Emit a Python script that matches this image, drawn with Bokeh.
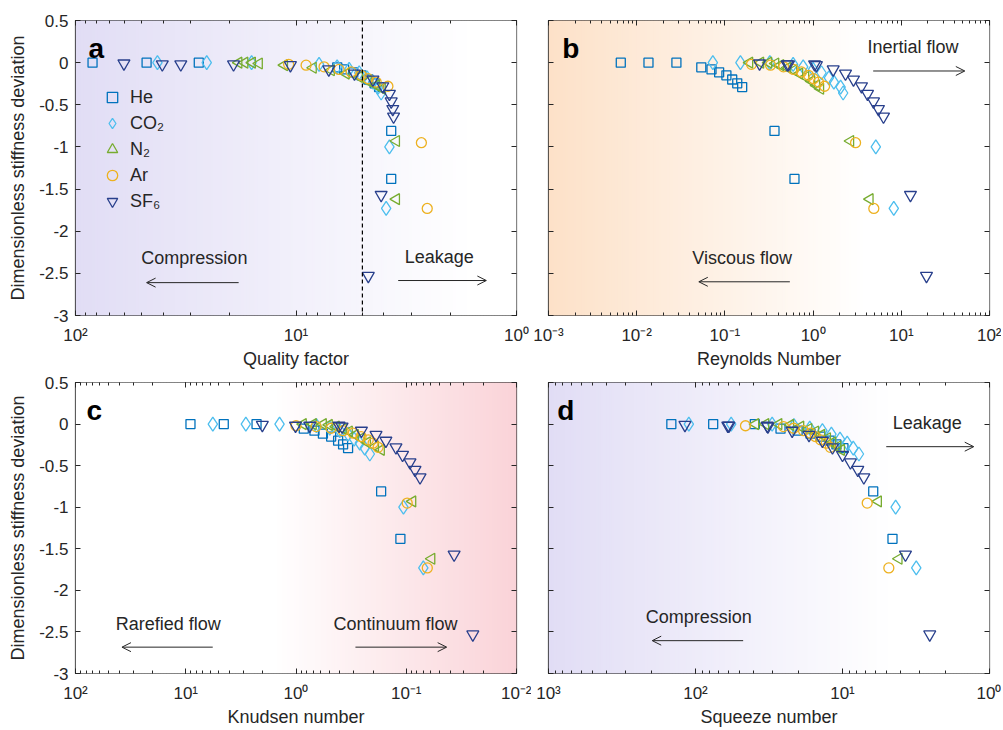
import numpy as np
from bokeh.plotting import figure
from bokeh.layouts import gridplot
from bokeh.models import (Range1d, LogAxis, LinearAxis, LogTicker, FixedTicker,
                          CustomJSTickFormatter, Span, Label, Arrow, OpenHead,
                          Legend, LegendItem)
from bokeh.embed import file_html
from bokeh.resources import INLINE

# ---------------- data ----------------
gases = ["He", "CO\u2082", "N\u2082", "Ar", "SF\u2086"]

he_dev = [0.0, 0.0, 0.0, -0.055, -0.08, -0.115, -0.15, -0.20, -0.245, -0.29, -0.81, -1.38]
he_q = [83.7, 47.6, 27.6, 6.5, 6.05, 5.5, 5.05, 4.7, 4.4, 4.2, 3.7, 3.7]
he_re = [0.0066, 0.0136, 0.0282, 0.054, 0.0705, 0.086, 0.104, 0.121, 0.138, 0.157, 0.365, 0.615]
he_kn = [9.06, 4.52, 2.28, 0.85, 0.68, 0.57, 0.48, 0.415, 0.374, 0.337, 0.169, 0.113]
he_sq = [146, 75.8, 39.5, 26.4, 20.2, 16.5, 14.1, 12.3, 11.0, 9.85, 6.18, 4.57]

co2_dev = [0.0, 0.0, 0.0, -0.02, -0.05, -0.08, -0.12, -0.18, -0.23, -0.29, -0.36, -1.0, -1.73]
co2_q = [42.5, 25.4, 15.9, 7.86, 6.51, 5.74, 5.17, 4.76, 4.47, 4.24, 4.11, 3.77, 3.90]
co2_re = [0.073, 0.150, 0.323, 0.594, 0.772, 1.00, 1.245, 1.51, 1.72, 2.05, 2.19, 5.14, 8.22]
co2_kn = [5.68, 2.85, 1.41, 0.653, 0.494, 0.401, 0.337, 0.297, 0.264, 0.238, 0.214, 0.106, 0.070]
co2_sq = [111, 57.2, 30.1, 21.4, 16.7, 13.7, 11.9, 10.4, 9.29, 8.45, 7.73, 4.35, 3.15]

n2_dev = [0.0, 0.0, 0.0, -0.01, -0.03, -0.06, -0.09, -0.13, -0.17, -0.22, -0.27, -0.31, -0.93, -1.62]
n2_q = [18.2, 17.1, 15.8, 14.7, 11.3, 8.37, 6.93, 5.93, 5.17, 4.71, 4.33, 4.07, 3.51, 3.51]
n2_re = [0.190, 0.253, 0.312, 0.375, 0.427, 0.513, 0.600, 0.701, 0.820, 0.959, 1.09, 1.21, 2.65, 4.40]
n2_kn = [0.863, 0.700, 0.568, 0.501, 0.433, 0.374, 0.330, 0.291, 0.257, 0.226, 0.191, 0.169, 0.0877, 0.0589]
n2_sq = [39.1, 33.4, 27.2, 22.6, 19.3, 17.0, 15.3, 13.9, 12.7, 11.7, 10.8, 10.2, 5.72, 4.14]

ar_dev = [-0.02, -0.03, -0.05, -0.08, -0.11, -0.15, -0.19, -0.23, -0.28, -0.95, -1.73]
ar_q = [10.8, 9.0, 7.46, 6.38, 5.62, 5.06, 4.71, 4.33, 3.83, 2.70, 2.54]
ar_re = [0.200, 0.329, 0.462, 0.600, 0.738, 0.887, 1.01, 1.15, 1.35, 3.03, 4.88]
ar_kn = [1.0, 0.658, 0.481, 0.374, 0.303, 0.257, 0.221, 0.200, 0.180, 0.098, 0.0644]
ar_sq = [45.7, 25.2, 21.5, 18.4, 16.5, 15.3, 14.1, 12.9, 12.1, 6.79, 4.84]

sf6_dev = [-0.01, -0.02, -0.02, -0.02, -0.03, -0.08, -0.13, -0.20, -0.28, -0.37, -0.46, -0.55, -0.64, -1.57, -2.53]
sf6_q = [60.3, 40.4, 33.3, 19.2, 10.6, 7.10, 5.43, 4.48, 4.04, 3.77, 3.70, 3.64, 3.61, 4.11, 4.70]
sf6_re = [0.247, 0.508, 0.526, 1.04, 1.09, 1.69, 2.33, 2.87, 3.54, 4.14, 4.84, 5.51, 6.28, 12.7, 19.3]
sf6_kn = [2.02, 1.01, 0.750, 0.407, 0.382, 0.255, 0.188, 0.153, 0.124, 0.108, 0.0925, 0.0833, 0.075, 0.0368, 0.0249]
sf6_sq = [118, 60.3, 59.3, 32.5, 32.2, 22.0, 16.9, 13.7, 11.7, 10.0, 8.83, 7.87, 7.16, 3.73, 2.55]

y_ticks = [-3, -2.5, -2, -1.5, -1, -0.5, 0, 0.5]

# ---------------- styles ----------------
FONT = "Liberation Sans"
INK = "#262626"
TICK_FS = "17px"
LAB_FS = "18px"
ANN_FS = "18px"

STYLE = [  # marker, size, angle, colour
    ("square", 9, 0.0, "#0072BD"),
    ("diamond", 14, 0.0, "#4DBEEE"),
    ("triangle", 11, np.pi / 2, "#77AC30"),
    ("circle", 10, 0.0, "#EDB120"),
    ("inverted_triangle", 12, 0.0, "#283F8C"),
]
DEV = [he_dev, co2_dev, n2_dev, ar_dev, sf6_dev]

SUP = CustomJSTickFormatter(code="""
const m = {'-':'\u207B','0':'\u2070','1':'\u00B9','2':'\u00B2','3':'\u00B3'};
const e = Math.round(Math.log10(tick));
return '10' + String(e).split('').map(c => m[c] || c).join('');
""")
YF = CustomJSTickFormatter(code="return (Math.round(tick*10)/10).toString();")


def empty():
    return CustomJSTickFormatter(code="return '';")


LAV = (225, 221, 245)
PEACH = (253, 225, 200)
PINK = (250, 211, 216)
WHITE = (255, 255, 255)


def interp(stops, t):
    for (t0, c0), (t1, c1) in zip(stops[:-1], stops[1:]):
        if t0 <= t <= t1:
            f = 0 if t1 == t0 else (t - t0) / (t1 - t0)
            c = [round(a + (b - a) * f) for a, b in zip(c0, c1)]
            return "#%02x%02x%02x" % tuple(c)
    return "#%02x%02x%02x" % stops[-1][1]


def panel(xr, w, h, bl, br, bt, bb, xlabel, ylabel, stops, lab_std, ax_std):
    p = figure(width=w, height=h, x_axis_type="log", x_range=xr,
               y_range=Range1d(-3, 0.5), output_backend="svg",
               toolbar_location=None, min_border_left=bl,
               min_border_right=br, min_border_top=bt, min_border_bottom=bb)
    p.xgrid.visible = False
    p.ygrid.visible = False
    p.outline_line_color = INK
    p.outline_line_width = 1.2
    p.background_fill_color = "white"
    p.border_fill_color = "white"

    # background gradient (decoration spanning the frame)
    n = 160
    edges = np.logspace(np.log10(xr.start), np.log10(xr.end), n + 1)
    cols = [interp(stops, (i + 0.5) / n) for i in range(n)]
    rights = np.append(edges[2:], edges[-1])
    p.quad(left=edges[:-1], right=rights, bottom=-3, top=0.5,
           fill_color=cols, line_color=None)

    xa = p.xaxis[0]
    xa.ticker = LogTicker(num_minor_ticks=10)
    xa.formatter = SUP
    xa.axis_label = xlabel
    xa.major_label_standoff = lab_std
    xa.axis_label_standoff = ax_std
    ya = p.yaxis[0]
    ya.ticker = FixedTicker(ticks=y_ticks)
    top = LogAxis(ticker=LogTicker(num_minor_ticks=10), formatter=empty())
    right = LinearAxis(ticker=FixedTicker(ticks=y_ticks), formatter=empty())
    p.add_layout(top, "above")
    p.add_layout(right, "right")
    if ylabel:
        ya.formatter = YF
        ya.axis_label = ylabel
        ya.major_label_standoff = 7
        ya.axis_label_standoff = 8
    else:
        ya.formatter = empty()
        ya.major_label_text_font_size = "0px"
        ya.major_label_standoff = 0
    for ax in [xa, ya, top, right]:
        ax.axis_line_color = None
        ax.major_tick_in = 5
        ax.major_tick_out = 0
        ax.minor_tick_in = 3
        ax.minor_tick_out = 0
        ax.major_tick_line_color = INK
        ax.minor_tick_line_color = INK
        ax.major_tick_line_width = 1
        ax.major_label_text_font = FONT
        ax.major_label_text_color = INK
        if ax is xa or (ax is ya and ylabel):
            ax.major_label_text_font_size = TICK_FS
        ax.axis_label_text_font = FONT
        ax.axis_label_text_font_size = LAB_FS
        ax.axis_label_text_font_style = "normal"
        ax.axis_label_text_color = INK
    for ax in [ya, right]:
        ax.minor_tick_line_color = None
    for ax in [top, right]:
        ax.major_label_text_font_size = "0px"
        ax.major_label_standoff = 0
    return p


def add_points(p, xs):
    rs = []
    for (mk, sz, ang, col), x, y in zip(STYLE, xs, DEV):
        r = p.scatter(x=x, y=y, marker=mk, size=sz, angle=ang,
                      fill_color=None, line_color=col, line_width=1.3)
        rs.append(r)
    return rs


def letter(p, x, y, t):
    p.add_layout(Label(x=x, y=y, text=t, text_font=FONT, text_font_style="bold",
                       text_font_size="28px", text_color="black",
                       text_baseline="alphabetic", text_align="left"))


def note(p, x, y, t):
    p.add_layout(Label(x=x, y=y, text=t, text_font=FONT, text_font_size=ANN_FS,
                       text_color=INK, text_align="center", text_baseline="middle"))


def arrow(p, x0, x1, y):
    p.add_layout(Arrow(end=OpenHead(size=9, line_color=INK, line_width=1),
                       x_start=x0, y_start=y, x_end=x1, y_end=y,
                       line_color=INK, line_width=1))


YLAB = "Dimensionless stiffness deviation"
W_L, W_R = 531, 470
H_T, H_B = 371, 358

# ---- panel a ----
pa = panel(Range1d(100, 1), W_L, H_T, 75, 15, 20, 55, "Quality factor", YLAB,
           [(0, LAV), (0.9, WHITE), (1, WHITE)], 10, 1)
ra = add_points(pa, [he_q, co2_q, n2_q, ar_q, sf6_q])
pa.add_layout(Span(location=5, dimension="height", line_color="black",
                   line_dash="4 3", line_width=1.2))
letter(pa, 87.3, 0.169, "a")
note(pa, 28.9, -2.313, "Compression")
arrow(pa, 18.2, 47.6, -2.61)
note(pa, 2.24, -2.30, "Leakage")
arrow(pa, 3.44, 1.37, -2.585)
leg = Legend(items=[LegendItem(label=g, renderers=[r]) for g, r in zip(gases, ra)],
             location=(24, 101), border_line_color=None,
             background_fill_alpha=0, padding=0, margin=0, spacing=0,
             glyph_width=26, glyph_height=26, label_height=26, label_standoff=5,
             label_text_font=FONT, label_text_font_size=ANN_FS,
             label_text_color=INK)
pa.add_layout(leg)

# ---- panel b ----
pb = panel(Range1d(1e-3, 1e2), W_R, H_T, 17, 12, 20, 55, "Reynolds Number", None,
           [(0, PEACH), (0.72, WHITE), (1, WHITE)], 10, 1)
add_points(pb, [he_re, co2_re, n2_re, ar_re, sf6_re])
letter(pb, 0.00143, 0.169, "b")
note(pb, 13.6, 0.184, "Inertial flow")
arrow(pb, 4.80, 52.5, -0.099)
note(pb, 0.157, -2.313, "Viscous flow")
arrow(pb, 0.545, 0.0506, -2.60)

# ---- panel c ----
pc = panel(Range1d(100, 0.01), W_L, H_B, 75, 15, 11, 54, "Knudsen number", YLAB,
           [(0, WHITE), (0.45, WHITE), (1, PINK)], 10, 1)
add_points(pc, [he_kn, co2_kn, n2_kn, ar_kn, sf6_kn])
letter(pc, 79.4, 0.169, "c")
note(pc, 14.4, -2.408, "Rarefied flow")
arrow(pc, 5.69, 37.9, -2.683)
note(pc, 0.125, -2.408, "Continuum flow")
arrow(pc, 0.289, 0.0430, -2.683)

# ---- panel d ----
pd = panel(Range1d(1000, 1), W_R, H_B, 17, 12, 11, 54, "Squeeze number", None,
           [(0, LAV), (0.78, WHITE), (1, WHITE)], 10, 1)
add_points(pd, [he_sq, co2_sq, n2_sq, ar_sq, sf6_sq])
letter(pd, 873, 0.169, "d")
note(pd, 2.65, 0.007, "Leakage")
arrow(pd, 5.04, 1.28, -0.272)
note(pd, 95.1, -2.325, "Compression")
arrow(pd, 47.4, 197, -2.605)

grid = gridplot([[pa, pb], [pc, pd]], toolbar_location=None)
open("out.html", "w").write(file_html(grid, INLINE))
